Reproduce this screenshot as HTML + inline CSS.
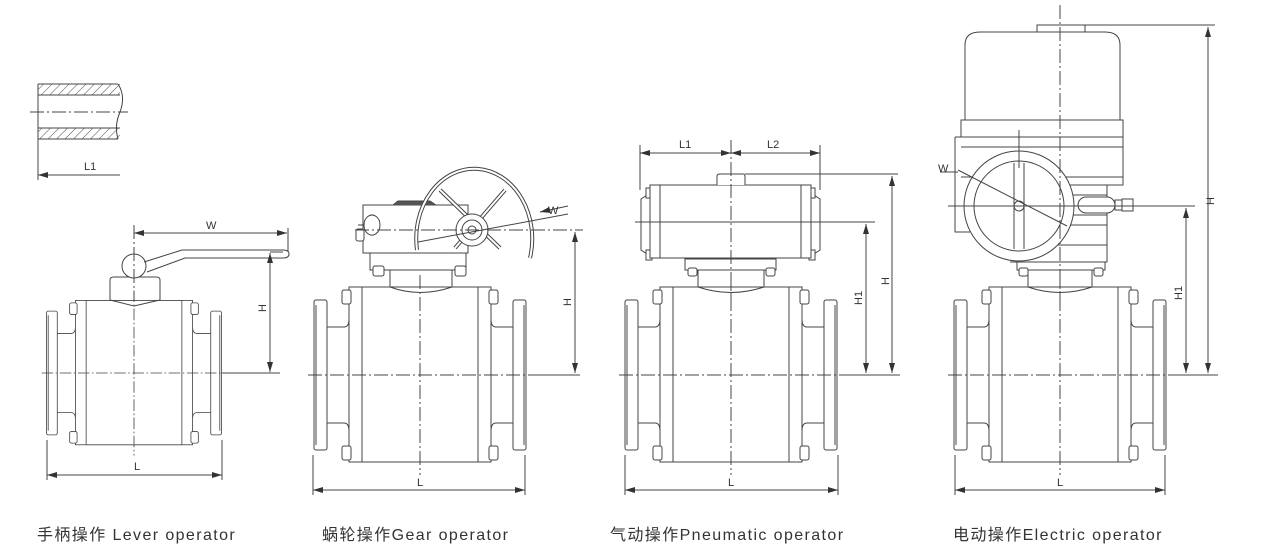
<!DOCTYPE html>
<html><head><meta charset="utf-8"><style>
html,body{margin:0;padding:0;background:#fff;width:1263px;height:553px;overflow:hidden}
svg{display:block}
text{font-family:"Liberation Sans","Noto Sans CJK SC",sans-serif;fill:#333}
</style></head><body>
<svg width="1263" height="553" viewBox="0 0 1263 553" xmlns="http://www.w3.org/2000/svg">
<defs>
<marker id="a" markerWidth="10" markerHeight="6" refX="10" refY="3" orient="auto-start-reverse" markerUnits="userSpaceOnUse"><path d="M0,0 L10,3 L0,6 Z" fill="#333"/></marker>
<pattern id="h" width="6" height="6" patternUnits="userSpaceOnUse" patternTransform="rotate(45)"><line x1="0" y1="0" x2="0" y2="6" stroke="#555" stroke-width="1"/></pattern>
<g id="body" fill="#fff" stroke="#444" stroke-width="1">
  <rect x="-106" y="-75" width="13" height="150" rx="2"/>
  <rect x="93" y="-75" width="13" height="150" rx="2"/>
  <path d="M-93,-48 H-76 Q-71,-48 -71,-56 M-93,48 H-76 Q-71,48 -71,56" fill="none"/>
  <path d="M93,-48 H76 Q71,-48 71,-56 M93,48 H76 Q71,48 71,56" fill="none"/>
  <rect x="-71" y="-88" width="13" height="175"/>
  <rect x="58" y="-88" width="13" height="175"/>
  <path d="M-58,-88 H58 M-58,87 H58" fill="none"/>
  <path d="M-104,-70 V70 M104,-70 V70" fill="none"/>
  <g stroke-width="1">
   <rect x="-78" y="-85" width="9" height="14" rx="2"/><rect x="-78" y="71" width="9" height="14" rx="2"/>
   <rect x="69" y="-85" width="9" height="14" rx="2"/><rect x="69" y="71" width="9" height="14" rx="2"/>
  </g>
  <path d="M-112,0 H130" stroke-dasharray="14,3,2,3" fill="none"/>
  <path d="M0,-100 V100" stroke-dasharray="14,3,2,3" fill="none"/>
</g>
</defs>
<g stroke="#444" stroke-width="1" fill="none">
<!-- pipe section -->
<rect x="38" y="84" width="82" height="11" fill="url(#h)" stroke="none"/>
<rect x="38" y="128" width="82" height="11" fill="url(#h)" stroke="none"/>
<path d="M38,84 H118 M38,95 H120 M38,128 H120 M38,139 H118"/>
<path d="M118,84 Q126,96 120,112 Q114,126 118,139"/>
<path d="M30,112 H128" stroke-dasharray="14,3,2,3"/>
<path d="M38,84 V180"/>
<path d="M38,175 H120" marker-start="url(#a)"/>

<!-- lever valve -->
<use href="#body" transform="translate(134,373) scale(0.825,0.825)"/>
<path d="M110,300 V280 Q110,277 114,277 H156 Q160,277 160,280 V300"/>
<path d="M110,300 Q134,306 134,306 Q134,306 160,300"/>
<circle cx="134" cy="266" r="12" fill="#fff"/>
<path d="M144,262 L182,250 H283 Q289,250 289,254 Q289,258 283,258 H185 L147,272"/>
<path d="M134,225 V300" stroke-dasharray="14,3,2,3"/>
<path d="M288,228 V252"/>
<path d="M134,233 H287" marker-start="url(#a)" marker-end="url(#a)"/>
<path d="M270,252 H283"/>
<path d="M270,253 V372" marker-start="url(#a)" marker-end="url(#a)"/>
<path d="M222,373 H280"/>
<path d="M47,440 V480 M222,440 V480"/>
<path d="M47,475 H222" marker-start="url(#a)" marker-end="url(#a)"/>

<!-- gear valve -->
<use href="#body" transform="translate(420,375)"/>
<path d="M390,287 V270 M452,287 V270"/>
<path d="M390,287 Q420,298 452,287"/>
<rect x="370" y="253" width="96" height="17" fill="#fff"/>
<rect x="373" y="266" width="11" height="10" rx="2" fill="#fff"/>
<rect x="455" y="266" width="11" height="10" rx="2" fill="#fff"/>
<rect x="363" y="205" width="105" height="48" fill="#fff"/>
<path d="M393,205 L398,201 H430 L436,205" fill="#555"/>
<path d="M358,225 h6 a8,10 0 1,1 0,0.1 z" />
<rect x="356" y="229" width="8" height="12" rx="2" fill="#fff"/>
<path d="M417,250 A58,70 0 1 1 530,258" stroke-width="4" stroke="#444"/>
<path d="M417,250 A58,70 0 1 1 530,258" stroke-width="2" stroke="#fff"/>
<path d="M440,190 L500,248 M505,190 L455,248" stroke-width="4"/>
<path d="M440,190 L500,248 M505,190 L455,248" stroke-width="2" stroke="#fff"/>
<circle cx="472" cy="230" r="16" fill="#fff"/>
<circle cx="472" cy="230" r="10"/>
<circle cx="472" cy="230" r="4"/>
<path d="M355,230 H583" stroke-dasharray="14,3,2,3"/>
<path d="M418,242 L568,214"/>
<path d="M540,212 L568,206" marker-end="url(#a)" transform="rotate(180 554 209)"/>
<path d="M540,375 H580"/>
<path d="M575,232 V373" marker-start="url(#a)" marker-end="url(#a)"/>
<path d="M313,455 V495 M525,455 V495"/>
<path d="M313,490 H525" marker-start="url(#a)" marker-end="url(#a)"/>

<!-- pneumatic valve -->
<use href="#body" transform="translate(731,375)"/>
<path d="M698,287 V270 M764,287 V270"/>
<path d="M698,287 Q731,298 764,287"/>
<rect x="685" y="259" width="91" height="11" fill="#fff"/>
<rect x="688" y="268" width="9" height="8" rx="2" fill="#fff"/>
<rect x="766" y="268" width="9" height="8" rx="2" fill="#fff"/>
<path d="M650,193 L641,199 V250 L650,256 M811,193 L820,199 V250 L811,256"/>
<rect x="646" y="188" width="6" height="10" fill="#fff"/><rect x="646" y="250" width="6" height="10" fill="#fff"/>
<rect x="809" y="188" width="6" height="10" fill="#fff"/><rect x="809" y="250" width="6" height="10" fill="#fff"/>
<rect x="650" y="185" width="161" height="73" fill="#fff"/>
<path d="M660,185 V258 M801,185 V258"/>
<path d="M717,185 V176 Q717,174 720,174 H743 Q745,174 745,177 V185" fill="#fff"/>
<path d="M731,140 V300" stroke-dasharray="14,3,2,3"/>
<path d="M640,145 V190 M820,145 V190"/>
<path d="M640,153 H731" marker-start="url(#a)" marker-end="url(#a)"/>
<path d="M731,153 H820" marker-start="url(#a)" marker-end="url(#a)"/>
<path d="M745,174 H898"/>
<path d="M635,222 H875"/>
<path d="M892,176 V373" marker-start="url(#a)" marker-end="url(#a)"/>
<path d="M866,224 V373" marker-start="url(#a)" marker-end="url(#a)"/>
<path d="M850,375 H900"/>
<path d="M625,455 V495 M838,455 V495"/>
<path d="M625,490 H838" marker-start="url(#a)" marker-end="url(#a)"/>

<!-- electric valve -->
<use href="#body" transform="translate(1060,375)"/>
<path d="M1028,287 V270 M1092,287 V270"/>
<path d="M1028,287 Q1060,298 1092,287"/>
<rect x="1017" y="262" width="88" height="8" fill="#fff"/>
<rect x="1019" y="268" width="9" height="8" rx="2" fill="#fff"/>
<rect x="1094" y="268" width="9" height="8" rx="2" fill="#fff"/>
<path d="M965,120 V45 Q965,32 980,32 H1105 Q1120,32 1120,45 V120" fill="#fff"/>
<rect x="1037" y="25" width="48" height="7" fill="#fff"/>
<rect x="961" y="120" width="162" height="17" fill="#fff"/>
<path d="M955,137 H1123 V185 H1107 V262 H1010"/>
<path d="M955,137 V232 H970"/>
<path d="M961,147 H1123 M961,177 H1123 M990,185 H1107 M990,195 H1107 M990,215 H1107 M990,225 H1107 M990,245 H1107"/>
<circle cx="1019" cy="206" r="55" fill="#fff"/>
<circle cx="1019" cy="206" r="45"/>
<path d="M1014,163 V249 M1024,163 V249"/>
<circle cx="1019" cy="206" r="5"/>
<rect x="1078" y="197" width="37" height="16" rx="8" fill="#fff"/>
<rect x="1115" y="200" width="7" height="10"/><rect x="1122" y="199" width="11" height="12"/>
<path d="M1019,130 V168"/>
<path d="M948,206 H1195"/>
<path d="M958,170 L1067,226"/>
<path d="M940,172 H958"/>
<path d="M1060,5 V300" stroke-dasharray="14,3,2,3"/>
<path d="M1085,25 H1215"/>
<path d="M1208,27 V373" marker-start="url(#a)" marker-end="url(#a)"/>
<path d="M1186,208 V373" marker-start="url(#a)" marker-end="url(#a)"/>
<path d="M1170,375 H1218"/>
<path d="M955,455 V495 M1165,455 V495"/>
<path d="M955,490 H1165" marker-start="url(#a)" marker-end="url(#a)"/>
</g>
<g font-size="11" stroke="none">
<text x="84" y="170">L1</text>
<text x="206" y="229">W</text>
<text x="134" y="470">L</text>
<text x="417" y="486">L</text>
<text x="728" y="486">L</text>
<text x="1057" y="486">L</text>
<text x="679" y="148">L1</text>
<text x="767" y="148">L2</text>
<text x="548" y="214">W</text>
<text x="938" y="172">W</text>
<text transform="translate(266,312) rotate(-90)">H</text>
<text transform="translate(571,306) rotate(-90)">H</text>
<text transform="translate(889,285) rotate(-90)">H</text>
<text transform="translate(862,305) rotate(-90)">H1</text>
<text transform="translate(1214,205) rotate(-90)">H</text>
<text transform="translate(1182,300) rotate(-90)">H1</text>
</g>
<g font-size="16" stroke="none" letter-spacing="1.4">
<text x="37" y="540">手柄操作 Lever operator</text>
<text x="322" y="540">蜗轮操作Gear operator</text>
<text x="610" y="540">气动操作Pneumatic operator</text>
<text x="953" y="540">电动操作Electric operator</text>
</g>
</svg>
</body></html>
